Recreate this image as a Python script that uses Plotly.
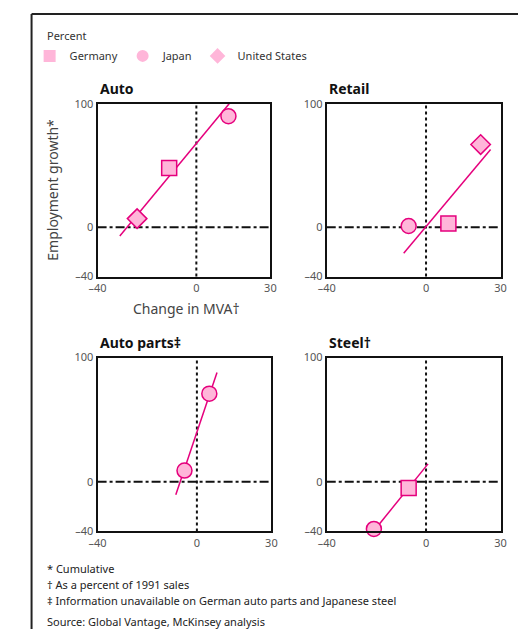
import plotly.graph_objects as go

# ---- data ----
panels = ["Auto", "Retail", "Auto parts‡", "Steel†"]

auto_x = [-11, 13, -24]
auto_y = [48, 90, 7]
auto_sym = ["square", "circle", "diamond"]
auto_fit_x = [-31, 13.3]
auto_fit_y = [-7, 100]

retail_x = [9, -7, 22]
retail_y = [3, 1, 67]
retail_sym = ["square", "circle", "diamond"]
retail_fit_x = [-9, 26]
retail_fit_y = [-21, 63]

parts_x = [5, -5]
parts_y = [71, 9]
parts_sym = ["circle", "circle"]
parts_fit_x = [-8.5, 8.1]
parts_fit_y = [-10.5, 88]

steel_x = [-7, -21]
steel_y = [-5, -38]
steel_sym = ["square", "circle"]
steel_fit_x = [-20, 0.8]
steel_fit_y = [-37, 14.4]

legend_names = ["Germany", "Japan", "United States"]
legend_syms = ["square", "circle", "diamond"]

x_ticks = [-40, 0, 30]
x_ticktext = ["–40", "0", "30"]
y_ticks = [-40, 0, 100]
y_ticktext = ["–40", "0", "100"]

footnotes = [
    "* Cumulative",
    "† As a percent of 1991 sales",
    "‡ Information unavailable on German auto parts and Japanese steel",
    "Source: Global Vantage, McKinsey analysis",
]

# ---- style ----
PAGE_W, PAGE_H = 532, 644
BODY_MARGIN = 8            # default browser body margin around the plot div
W, H = PAGE_W - 2 * BODY_MARGIN, PAGE_H - 2 * BODY_MARGIN
PINK_FILL = "#FFB6D9"
PINK_LINE = "#E5007D"
FONT = "Noto Sans"

def px_x(p):
    return (p - BODY_MARGIN) / W

def px_y(p):
    return 1 - (p - BODY_MARGIN) / H

boxes = [
    (91, 269, 98, 275),
    (327, 506, 98, 275),
    (91, 270, 358, 536),
    (327, 506, 358, 536),
]

data = [
    (auto_x, auto_y, auto_sym, auto_fit_x, auto_fit_y),
    (retail_x, retail_y, retail_sym, retail_fit_x, retail_fit_y),
    (parts_x, parts_y, parts_sym, parts_fit_x, parts_fit_y),
    (steel_x, steel_y, steel_sym, steel_fit_x, steel_fit_y),
]

fig = go.Figure()
layout = dict(
    width=W, height=H, autosize=False,
    margin=dict(l=0, r=0, t=0, b=0),
    paper_bgcolor="white", plot_bgcolor="white",
    font=dict(family=FONT, size=11, color="#333"),
    showlegend=True,
    legend=dict(orientation="h", x=px_x(21), y=px_y(34), xanchor="left", yanchor="top",
                font=dict(size=11, color="#333"), itemsizing="constant",
                bgcolor="rgba(0,0,0,0)", tracegroupgap=0, itemwidth=30),
)
shapes = []
annotations = []

for i, ((x0, x1, y0, y1), (xs, ys, syms, fx, fy), title) in enumerate(zip(boxes, data, panels)):
    n = "" if i == 0 else str(i + 1)
    xa, ya = "x" + n, "y" + n
    layout["xaxis" + n] = dict(
        domain=[px_x(x0), px_x(x1)], range=[-40, 30], anchor=ya,
        tickvals=x_ticks, ticktext=x_ticktext, showgrid=False, zeroline=False,
        showline=True, mirror=True, linecolor="#111", linewidth=2, ticks="",
        tickfont=dict(size=11, color="#555"), fixedrange=True,
    )
    layout["yaxis" + n] = dict(
        domain=[px_y(y1), px_y(y0)], range=[-40, 100], anchor=xa,
        tickvals=y_ticks, ticktext=y_ticktext, showgrid=False, zeroline=False,
        showline=True, mirror=True, linecolor="#111", linewidth=2, ticks="",
        tickfont=dict(size=11, color="#555"), fixedrange=True,
    )
    # zero reference lines
    shapes.append(dict(type="line", xref=xa + " domain", yref=ya, x0=0, x1=1, y0=0, y1=0,
                       line=dict(color="#111", width=2, dash="dashdot"), layer="below"))
    shapes.append(dict(type="line", xref=xa, yref=ya + " domain", x0=0, x1=0, y0=0, y1=1,
                       line=dict(color="#111", width=2, dash="dot"), layer="below"))
    fig.add_trace(go.Scatter(x=fx, y=fy, xaxis=xa, yaxis=ya, mode="lines",
                             line=dict(color=PINK_LINE, width=1.5), showlegend=False,
                             cliponaxis=True, hoverinfo="skip"))
    fig.add_trace(go.Scatter(x=xs, y=ys, xaxis=xa, yaxis=ya, mode="markers",
                             marker=dict(symbol=syms, size=15, color=PINK_FILL,
                                         line=dict(color=PINK_LINE, width=1.5)),
                             showlegend=False, cliponaxis=False))
    annotations.append(dict(text="<b>" + title + "</b>", xref="paper", yref="paper",
                            x=px_x(x0), y=px_y(y0 - 4), xanchor="left", yanchor="bottom",
                            showarrow=False, font=dict(size=14, color="#111")))

# legend entries
for name, sym in zip(legend_names, legend_syms):
    fig.add_trace(go.Scatter(x=[None], y=[None], mode="markers", name=name,
                             marker=dict(symbol=sym, size=13, color=PINK_FILL, line=dict(width=0))))

annotations += [
    dict(text="Percent", xref="paper", yref="paper", x=px_x(37), y=px_y(28),
         xanchor="left", yanchor="middle", showarrow=False, font=dict(size=11, color="#333")),
    dict(text="Employment growth*", xref="paper", yref="paper", x=px_x(45), y=px_y(186),
         xanchor="center", yanchor="middle", textangle=-90, showarrow=False,
         font=dict(size=14, color="#444")),
    dict(text="Change in MVA†", xref="paper", yref="paper", x=px_x(183), y=px_y(308),
         xanchor="center", yanchor="middle", showarrow=False, font=dict(size=14, color="#444")),
]
for k, t in enumerate(footnotes):
    yy = [574, 590, 607, 628][k]
    annotations.append(dict(text=t, xref="paper", yref="paper", x=px_x(37), y=px_y(yy),
                            xanchor="left", yanchor="middle", showarrow=False,
                            font=dict(size=11, color="#222")))

# outer frame: left and top edges only (right/bottom edges lie outside the picture)
shapes.append(dict(type="line", xref="paper", yref="paper", x0=px_x(23), x1=px_x(23),
                   y0=0, y1=px_y(6), line=dict(color="#222", width=2)))
shapes.append(dict(type="line", xref="paper", yref="paper", x0=px_x(23), x1=1,
                   y0=px_y(6), y1=px_y(6), line=dict(color="#222", width=2)))

layout["shapes"] = shapes
layout["annotations"] = annotations
fig.update_layout(**layout)
fig.write_html("out.html", config={"responsive": False, "displayModeBar": False})
